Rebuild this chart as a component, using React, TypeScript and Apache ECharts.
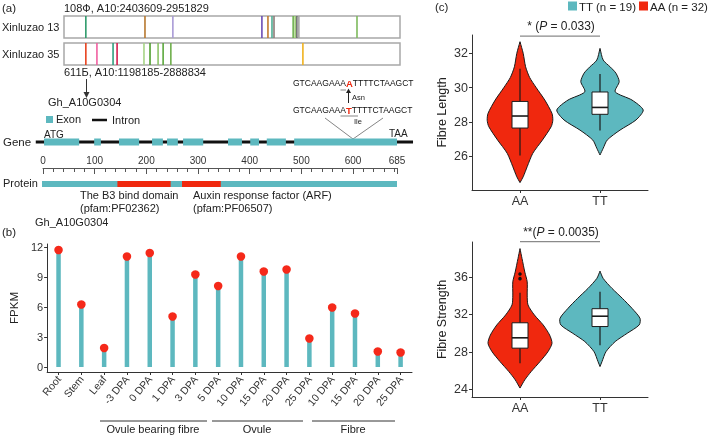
import React, { useEffect, useRef } from 'react';
import * as echarts from 'echarts';

// ---------- data ----------
// (a) SNP tracks: position along the region (% of track), colour of each haplotype mark
const track13Pos = [6.5, 24.1, 32.4, 58.9, 60.7, 61.9, 62.5, 68.2, 68.8, 69.3, 69.9, 87.2];
const track13Colors = ['#2E9B6B', '#B7782E', '#A99AD6', '#6B4DB6', '#C27B2D', '#4FAE93', '#8C7B78', '#6FB14F', '#9BCB76', '#6F6F6F', '#A5A5A5', '#7DBA5C'];
const track35Pos = [6.5, 9.8, 14.6, 15.8, 23.8, 25.6, 28.0, 29.5, 31.8, 71.1];
const track35Colors = ['#E8431F', '#F05FA0', '#2FA07E', '#D21E4E', '#A6D486', '#4E9E2E', '#8CC468', '#5CA83C', '#6FAF4C', '#F0B21E'];

// gene structure (scaled to protein coordinates)
const geneSpan = [-14, 716];
const exons = [[2, 70], [99, 112], [147, 186], [211, 232], [240, 261], [271, 310], [358, 385], [401, 418], [433, 470], [486, 685]];
const proteinLength = 685;
const proteinDomains = [[144, 247], [269, 344]];

// (b) expression
const tissues = ['Root', 'Stem', 'Leaf', '-3 DPA', '0 DPA', '1 DPA', '3 DPA', '5 DPA', '10 DPA', '15 DPA', '20 DPA', '25 DPA', '10 DPA', '15 DPA', '20 DPA', '25 DPA'];
const fpkm = [11.7, 6.25, 1.9, 11.05, 11.4, 5.05, 9.25, 8.1, 11.05, 9.55, 9.75, 2.85, 5.95, 5.35, 1.55, 1.45];
const fpkmTicks = [0, 3, 6, 9, 12];

// (c) violins
const genotypes = ['AA', 'TT'];
const lengthTicks = [26, 28, 30, 32];
const strengthTicks = [24, 28, 32, 36];
// [value, half width in category units]
const lengthViolinAA = [[32.68, 0], [32.0, 0.04], [31.22, 0.07], [30.6, 0.12], [30.02, 0.2], [29.28, 0.31], [28.5, 0.4], [28.1, 0.41], [27.73, 0.39], [26.95, 0.28], [26.18, 0.16], [25.4, 0.09], [24.81, 0.04], [24.47, 0]];
const lengthViolinTT = [[32.29, 0], [31.61, 0.04], [31.2, 0.13], [30.84, 0.2], [30.35, 0.24], [29.76, 0.19], [29.28, 0.4], [28.7, 0.54], [28.12, 0.45], [27.53, 0.25], [26.95, 0.09], [26.47, 0.04], [26.08, 0]];
const strengthViolinAA = [[39.0, 0], [37.95, 0.025], [36.5, 0.06], [35.46, 0.09], [34.05, 0.09], [33.0, 0.1], [31.93, 0.18], [30.87, 0.29], [29.8, 0.37], [28.92, 0.4], [28.03, 0.35], [26.97, 0.25], [25.91, 0.14], [25.03, 0.06], [24.15, 0]];
const strengthViolinTT = [[36.6, 0], [35.82, 0.04], [34.76, 0.15], [33.7, 0.28], [32.64, 0.4], [31.58, 0.5], [30.87, 0.49], [29.98, 0.34], [29.1, 0.19], [28.03, 0.075], [26.97, 0.025], [26.44, 0]];
// [lower whisker, Q1, median, Q3, upper whisker]
const lengthBoxAA = [26.05, 27.65, 28.35, 29.2, 31.1];
const lengthBoxTT = [27.5, 28.45, 28.85, 29.75, 30.8];
const strengthBoxAA = [26.8, 28.4, 29.5, 31.1, 34.3];
const strengthBoxTT = [28.7, 30.7, 31.8, 32.6, 34.4];
const strengthOutliersAA = [35.8, 36.3];
const lengthSig = 33.0;
const strengthSig = 39.75;

// ---------- styles ----------
const FONT = 'Liberation Sans, Arial, sans-serif';
const TEAL = '#5DB8BF';
const RED = '#F0280E';
const DOT_RED = '#F5291A';
const AXIS = '#333';
const nameAA = 'AA (n = 32)';
const nameTT = 'TT (n = 19)';

function txt(x: number, y: number, text: string, size = 11, extra: any = {}) {
  return {
    type: 'text', x, y, silent: true,
    style: { text, fontSize: size, fontFamily: FONT, fill: '#222', align: 'left', verticalAlign: 'middle', ...extra },
  };
}
function ln(x1: number, y1: number, x2: number, y2: number, stroke = '#222', lineWidth = 1) {
  return { type: 'line', silent: true, shape: { x1, y1, x2, y2 }, style: { stroke, lineWidth } };
}

function trackSeries(idx: number, pos: number[], colors: string[]) {
  return {
    type: 'custom', xAxisIndex: idx, yAxisIndex: idx, silent: true,
    data: pos.map((p, i) => [p, i]),
    encode: { x: 0 },
    renderItem: (params: any, api: any) => {
      const p = api.value(0);
      const a = api.coord([p, 0]);
      const b = api.coord([p, 1]);
      return { type: 'line', shape: { x1: a[0], y1: a[1], x2: b[0], y2: b[1] }, style: { stroke: colors[params.dataIndex], lineWidth: 1.6 } };
    },
  };
}

function violinSeries(name: string, axis: number, cx: number, profile: number[][], box: number[], color: string) {
  return {
    type: 'custom', name, xAxisIndex: axis, yAxisIndex: axis, silent: true,
    itemStyle: { color },
    data: [[cx, box[2]]],
    encode: { x: 0, y: 1 },
    renderItem: (params: any, api: any) => {
      const x = api.value(0);
      const right = profile.map(([v, w]) => api.coord([x + w, v]));
      const left = profile.slice().reverse().map(([v, w]) => api.coord([x - w, v]));
      const hw = 0.1;
      const q3 = api.coord([x - hw, box[3]]);
      const q1 = api.coord([x + hw, box[1]]);
      const med1 = api.coord([x - hw, box[2]]);
      const med2 = api.coord([x + hw, box[2]]);
      const wl = api.coord([x, box[0]]);
      const wu = api.coord([x, box[4]]);
      return {
        type: 'group',
        children: [
          { type: 'polygon', shape: { points: right.concat(left), smooth: 0.25 }, style: { fill: color, stroke: '#1a1a1a', lineWidth: 1 } },
          { type: 'line', shape: { x1: wl[0], y1: wl[1], x2: wu[0], y2: wu[1] }, style: { stroke: '#1a1a1a', lineWidth: 1.2 } },
          { type: 'rect', shape: { x: q3[0], y: q3[1], width: q1[0] - q3[0], height: q1[1] - q3[1] }, style: { fill: '#fff', stroke: '#1a1a1a', lineWidth: 1 } },
          { type: 'line', shape: { x1: med1[0], y1: med1[1], x2: med2[0], y2: med2[1] }, style: { stroke: '#1a1a1a', lineWidth: 1.6 } },
        ],
      };
    },
  };
}

function violinAxes(top: number, min: number, max: number, ticks: number[], name: string) {
  return {
    grid: { left: 472, top, width: 176, height: 155 },
    x: {
      type: 'value', min: 0.4, max: 2.6, splitLine: { show: false },
      axisLine: { show: true, onZero: false, lineStyle: { color: AXIS, width: 1 } },
      axisTick: { show: true, length: 3, customValues: [1, 2], lineStyle: { color: AXIS } },
      axisLabel: { customValues: [1, 2], formatter: (v: number) => genotypes[Math.round(v) - 1], fontSize: 12.5, color: '#333', margin: 4, fontFamily: FONT },
    },
    y: {
      type: 'value', min, max, splitLine: { show: false },
      name, nameLocation: 'middle', nameGap: 24, nameTextStyle: { fontSize: 12.5, color: '#222', fontFamily: FONT },
      axisLine: { show: true, onZero: false, lineStyle: { color: AXIS, width: 1 } },
      axisTick: { show: true, length: 3, customValues: ticks, lineStyle: { color: AXIS } },
      axisLabel: { customValues: ticks, fontSize: 12.5, color: '#333', margin: 4, fontFamily: FONT },
    },
  };
}

const seqRich = {
  n: { fontSize: 8.5, fill: '#111', fontFamily: FONT },
  r: { fontSize: 9.5, fill: RED, fontWeight: 'bold', fontFamily: FONT },
};
const pRich = {
  a: { fontSize: 12, fill: '#222', fontFamily: FONT },
  i: { fontSize: 12, fill: '#222', fontStyle: 'italic', fontFamily: FONT },
};

export default function App() {
  const ref = useRef<HTMLDivElement>(null);
  useEffect(() => {
    if (!ref.current) return;
    const chart = echarts.init(ref.current, undefined, { renderer: 'svg' });
    const hidden = { show: false };
    const vL = violinAxes(35, 24.04, 33.07, lengthTicks, 'Fibre Length');
    const vS = violinAxes(242, 23.2, 39.7, strengthTicks, 'Fibre Strength');

    const option: any = {
      animation: false,
      textStyle: { fontFamily: FONT },
      grid: [
        { left: 64, top: 16, width: 336, height: 22, show: true, borderColor: '#A8A8A8', borderWidth: 1.5 },
        { left: 64, top: 43, width: 336, height: 22, show: true, borderColor: '#A8A8A8', borderWidth: 1.5 },
        { left: 43, top: 135, width: 354, height: 14 },
        { left: 43, top: 168, width: 354, height: 16 },
        { left: 36, top: 244, width: 376, height: 128 },
        vL.grid,
        vS.grid,
      ],
      xAxis: [
        { gridIndex: 0, type: 'value', min: 0, max: 100, ...hidden },
        { gridIndex: 1, type: 'value', min: 0, max: 100, ...hidden },
        { gridIndex: 2, type: 'value', min: 0, max: proteinLength, ...hidden },
        {
          gridIndex: 3, type: 'value', position: 'top', min: 0, max: proteinLength, interval: 100,
          splitLine: { show: false },
          axisLine: { show: true, onZero: false, lineStyle: { color: '#555', width: 1 } },
          axisTick: { show: true, inside: true, length: 6, lineStyle: { color: '#555', width: 1 } },
          minorTick: { show: true, splitNumber: 5, length: 4, lineStyle: { color: '#555', width: 1 } },
          axisLabel: { fontSize: 10, color: '#333', margin: 3, fontFamily: FONT },
        },
        {
          gridIndex: 4, type: 'category', data: tissues, boundaryGap: true,
          axisLine: { show: true, onZero: false, lineStyle: { color: AXIS, width: 1 } },
          axisTick: { show: true, alignWithLabel: true, length: 3, lineStyle: { color: AXIS } },
          axisLabel: { interval: 0, rotate: 50, fontSize: 10.5, color: '#333', margin: 5, fontFamily: FONT },
        },
        { gridIndex: 5, ...vL.x },
        { gridIndex: 6, ...vS.x },
      ],
      yAxis: [
        { gridIndex: 0, type: 'value', min: 0, max: 1, ...hidden },
        { gridIndex: 1, type: 'value', min: 0, max: 1, ...hidden },
        { gridIndex: 2, type: 'value', min: 0, max: 1, ...hidden },
        { gridIndex: 3, type: 'value', min: 0, max: 1, ...hidden },
        {
          gridIndex: 4, type: 'value', min: -0.5, max: 12.3, splitLine: { show: false },
          name: 'FPKM', nameLocation: 'middle', nameGap: 22, nameTextStyle: { fontSize: 11.5, color: '#222', fontFamily: FONT },
          axisLine: { show: true, onZero: false, lineStyle: { color: AXIS, width: 1 } },
          axisTick: { show: true, length: 3, customValues: fpkmTicks, lineStyle: { color: AXIS } },
          axisLabel: { customValues: fpkmTicks, fontSize: 11, color: '#333', margin: 4, fontFamily: FONT },
        },
        { gridIndex: 5, ...vL.y },
        { gridIndex: 6, ...vS.y },
      ],
      series: [
        trackSeries(0, track13Pos, track13Colors),
        trackSeries(1, track35Pos, track35Colors),
        {
          type: 'custom', xAxisIndex: 2, yAxisIndex: 2, silent: true,
          data: [geneSpan], encode: { x: [0, 1] },
          renderItem: (p: any, api: any) => {
            const a = api.coord([api.value(0), 0.5]);
            const b = api.coord([api.value(1), 0.5]);
            return { type: 'line', shape: { x1: a[0], y1: a[1], x2: b[0], y2: b[1] }, style: { stroke: '#111', lineWidth: 3 } };
          },
        },
        {
          type: 'custom', xAxisIndex: 2, yAxisIndex: 2, silent: true,
          data: exons, encode: { x: [0, 1] },
          renderItem: (p: any, api: any) => {
            const a = api.coord([api.value(0), 0.5]);
            const b = api.coord([api.value(1), 0.5]);
            return { type: 'rect', shape: { x: a[0], y: a[1] - 3.5, width: b[0] - a[0], height: 7 }, style: { fill: TEAL } };
          },
        },
        {
          type: 'custom', xAxisIndex: 3, yAxisIndex: 3, silent: true,
          data: [[0, proteinLength]], encode: { x: [0, 1] },
          renderItem: (p: any, api: any) => {
            const a = api.coord([api.value(0), 0]);
            const b = api.coord([api.value(1), 0]);
            return { type: 'rect', shape: { x: a[0] - 1, y: a[1] - 3, width: b[0] - a[0] + 1, height: 6 }, style: { fill: TEAL } };
          },
        },
        {
          type: 'custom', xAxisIndex: 3, yAxisIndex: 3, silent: true,
          data: proteinDomains, encode: { x: [0, 1] },
          renderItem: (p: any, api: any) => {
            const a = api.coord([api.value(0), 0]);
            const b = api.coord([api.value(1), 0]);
            return { type: 'rect', shape: { x: a[0], y: a[1] - 3, width: b[0] - a[0], height: 6 }, style: { fill: RED } };
          },
        },
        {
          type: 'bar', xAxisIndex: 4, yAxisIndex: 4, data: fpkm, barWidth: 4.5, silent: true,
          itemStyle: { color: TEAL },
        },
        {
          type: 'scatter', xAxisIndex: 4, yAxisIndex: 4, data: fpkm, symbolSize: 8.5, silent: true,
          itemStyle: { color: DOT_RED, opacity: 1 }, z: 3,
        },
        violinSeries(nameAA, 5, 1, lengthViolinAA, lengthBoxAA, RED),
        violinSeries(nameTT, 5, 2, lengthViolinTT, lengthBoxTT, TEAL),
        violinSeries(nameAA, 6, 1, strengthViolinAA, strengthBoxAA, RED),
        violinSeries(nameTT, 6, 2, strengthViolinTT, strengthBoxTT, TEAL),
        {
          type: 'scatter', xAxisIndex: 6, yAxisIndex: 6, silent: true, z: 5,
          data: strengthOutliersAA.map((v) => [1, v]), symbolSize: 3.5, itemStyle: { color: '#111', opacity: 1 },
        },
        {
          type: 'line', xAxisIndex: 5, yAxisIndex: 5, silent: true, clip: false, symbol: 'none',
          data: [[1, lengthSig], [2, lengthSig]], lineStyle: { color: '#8a8a8a', width: 1.3 },
        },
        {
          type: 'line', xAxisIndex: 6, yAxisIndex: 6, silent: true, clip: false, symbol: 'none',
          data: [[1, strengthSig], [2, strengthSig]], lineStyle: { color: '#8a8a8a', width: 1.3 },
        },
      ],
      graphic: [
        txt(2, 8, '(a)', 11.5),
        txt(64, 8, '108Ф, A10:2403609-2951829', 11),
        txt(2, 27, 'Xinluzao 13', 11),
        txt(2, 54, 'Xinluzao 35', 11),
        txt(64, 72, '611Б, A10:1198185-2888834', 11),
        ln(86.5, 79, 86.5, 93, '#333', 1),
        { type: 'polygon', silent: true, shape: { points: [[83.5, 92], [89.5, 92], [86.5, 98]] }, style: { fill: '#333' } },
        txt(48, 102, 'Gh_A10G0304', 11),
        { type: 'rect', silent: true, shape: { x: 46, y: 116, width: 7, height: 7 }, style: { fill: TEAL } },
        txt(56, 119, 'Exon', 11),
        ln(92, 120, 107, 120, '#111', 2.5),
        txt(112, 120, 'Intron', 11),
        txt(44, 134, 'ATG', 10),
        txt(389, 133, 'TAA', 10),
        txt(3, 142, 'Gene', 11.5),
        txt(3, 183, 'Protein', 11),
        txt(80, 195, 'The B3 bind domain', 11),
        txt(80, 208, '(pfam:PF02362)', 11),
        txt(193, 195, 'Auxin response factor (ARF)', 11),
        txt(193, 208, '(pfam:PF06507)', 11),
        txt(293, 83, '{n|GTCAAGAAA}{r|A}{n|TTTTCTAAGCT}', 8.5, { rich: seqRich }),
        ln(340.5, 90, 346, 90, '#555', 0.7),
        ln(348.5, 103, 348.5, 92, '#222', 1),
        { type: 'polygon', silent: true, shape: { points: [[346, 93], [351, 93], [348.5, 88.5]] }, style: { fill: '#222' } },
        txt(352, 97, 'Asn', 7.5),
        txt(293, 110, '{n|GTCAAGAAA}{r|T}{n|TTTTCTAAGCT}', 8.5, { rich: seqRich }),
        ln(340.5, 116, 358, 116, '#555', 0.7),
        txt(354, 121, 'Ile', 7.5),
        ln(325, 118, 353, 139, '#666', 0.8),
        ln(383, 118, 353, 139, '#666', 0.8),
        txt(2, 232, '(b)', 11.5),
        txt(35, 222, 'Gh_A10G0304', 11),
        ln(100, 421, 207, 421, '#333', 1),
        ln(212, 421, 303, 421, '#333', 1),
        ln(312, 421, 395, 421, '#333', 1),
        txt(153, 429, 'Ovule bearing fibre', 11, { align: 'center' }),
        txt(257, 429, 'Ovule', 11, { align: 'center' }),
        txt(353, 429, 'Fibre', 11, { align: 'center' }),
        txt(435, 7, '(c)', 11.5),
        { type: 'rect', silent: true, shape: { x: 568, y: 1.5, width: 9, height: 9 }, style: { fill: TEAL } },
        txt(579, 6.5, nameTT, 11.5),
        { type: 'rect', silent: true, shape: { x: 639, y: 1.5, width: 9, height: 9 }, style: { fill: RED } },
        txt(650, 6.5, nameAA, 11.5),
        txt(561, 26, '{a|* (}{i|P}{a| = 0.033)}', 12, { align: 'center', rich: pRich }),
        txt(561, 232, '{a|**(}{i|P}{a| = 0.0035)}', 12, { align: 'center', rich: pRich }),
      ],
    };
    chart.setOption(option);
    return () => chart.dispose();
  }, []);
  return <div ref={ref} style={{ position: 'fixed', left: 0, top: 0, width: 709, height: 436 }} />;
}
